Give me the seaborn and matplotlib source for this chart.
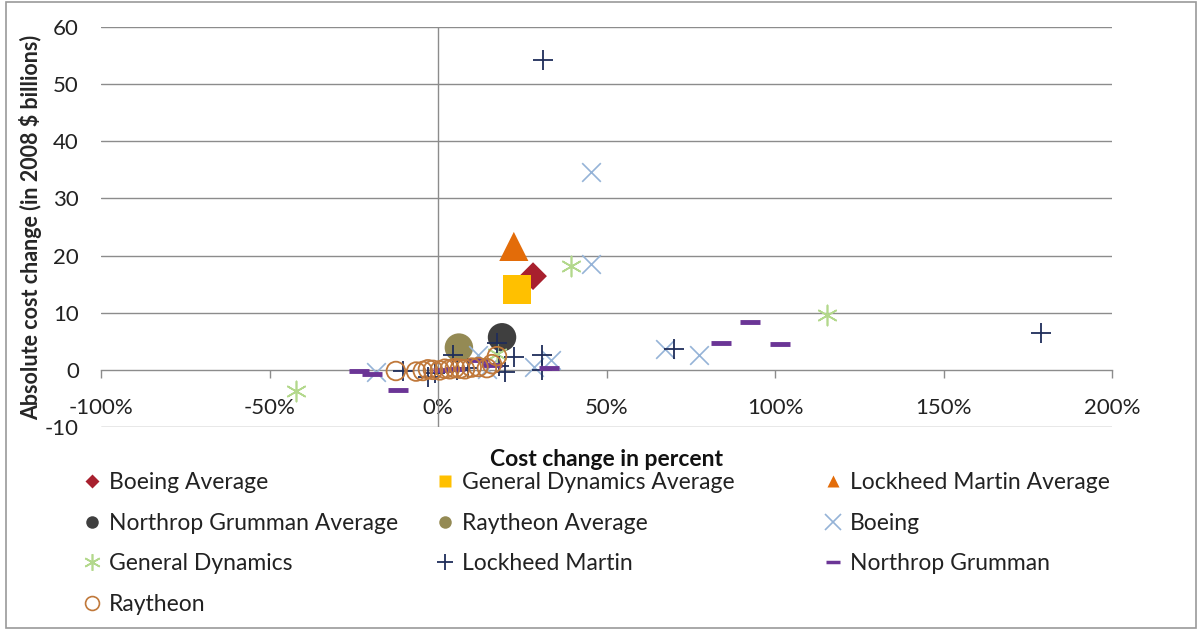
import pandas as pd
import numpy as np
import matplotlib
matplotlib.use("Agg")
import matplotlib.pyplot as plt
import seaborn as sns
from matplotlib.patches import Rectangle
from matplotlib.lines import Line2D

# averages per contractor (percent change, absolute change in 2008 $ billions)
avg_names = ['Boeing Average', 'General Dynamics Average', 'Lockheed Martin Average',
             'Northrop Grumman Average', 'Raytheon Average']
avg_pct = [28.2, 23.5, 22.5, 19.0, 6.2]
avg_abs = [16.4, 14.1, 21.6, 5.7, 3.9]

# individual programs
boeing_pct = [-18.5, 12.0, 14.5, 28.5, 33.5, 45.5, 45.5, 67.5, 77.5]
boeing_abs = [-0.3, 2.6, 0.2, 0.5, 1.8, 34.6, 18.5, 3.7, 2.6]

gd_pct = [-42.0, 17.5, 39.5, 115.5]
gd_abs = [-3.7, 2.8, 18.2, 9.6]

lm_pct = [-10.5, -3.0, -1.0, 4.5, 5.5, 9.0, 17.5, 18.0, 20.0, 22.5, 31.0, 31.0, 31.2, 70.0, 179.0]
lm_abs = [-0.2, -1.3, -0.5, 2.6, 0.0, 0.3, 4.7, 0.6, -0.3, 2.3, 2.6, 0.0, 54.2, 3.7, 6.5]

ng_pct = [-23.5, -19.5, -12.0, 1.5, 5.0, 12.0, 16.0, 33.0, 84.0, 92.5, 101.5]
ng_abs = [-0.2, -0.8, -3.6, 0.0, 0.1, 1.7, 0.9, 0.3, 4.7, 8.3, 4.5]

ray_pct = [-12.5, -6.5, -4.5, -3.0, -1.5, 0.5, 2.0, 3.5, 5.0, 6.5, 8.0, 10.0, 12.0, 14.5, 16.0, 17.5]
ray_abs = [-0.2, -0.3, -0.2, 0.1, 0.0, -0.1, 0.2, 0.1, 0.3, 0.2, 0.1, 0.4, 0.5, 0.3, 1.0, 2.4]

x_ticks = [-100, -50, 0, 50, 100, 150, 200]
y_ticks = [-10, 0, 10, 20, 30, 40, 50, 60]

sns.set_theme(style="white")
plt.rcParams['font.family'] = ['Lato', 'DejaVu Sans']

fig = plt.figure(figsize=(12.02, 6.30), dpi=100)
ax = fig.add_axes([101/1202, 1 - 427/630, (1112 - 101)/1202, 400/630])

# series styles: (label, x, y, marker, size, color, filled, linewidth)
series = [
    (avg_names[0], [avg_pct[0]], [avg_abs[0]], 'D', 200, '#A8202E', True, 0),
    (avg_names[1], [avg_pct[1]], [avg_abs[1]], 's', 420, '#FFC000', True, 0),
    (avg_names[2], [avg_pct[2]], [avg_abs[2]], '^', 440, '#E36C09', True, 0),
    (avg_names[3], [avg_pct[3]], [avg_abs[3]], 'o', 420, '#3F3F3F', True, 0),
    (avg_names[4], [avg_pct[4]], [avg_abs[4]], 'o', 420, '#948A54', True, 0),
    ('Boeing', boeing_pct, boeing_abs, 'x', 180, '#95B3D7', False, 1.2),
    ('General Dynamics', gd_pct, gd_abs, (6, 2, 0), 210, '#B3D88C', False, 1.2),
    ('Lockheed Martin', lm_pct, lm_abs, '+', 200, '#1F2D5A', False, 1.3),
    ('Northrop Grumman', ng_pct, ng_abs, '_', 190, '#6B3596', False, 3.5),
    ('Raytheon', ray_pct, ray_abs, 'o', 180, '#C0783A', False, 1.3),
]

handles = []
for label, xs, ys, mk, sz, col, filled, lw in series:
    df = pd.DataFrame({'pct': xs, 'abs': ys})
    if filled:
        sns.scatterplot(data=df, x='pct', y='abs', ax=ax, marker=mk, s=sz,
                        color=col, edgecolor='none', linewidth=0, zorder=3)
        h = Line2D([], [], marker=mk, linestyle='none', markersize=9 if mk != 'D' else 7.5,
                   markerfacecolor=col, markeredgecolor='none', color=col)
    elif label == 'Raytheon':
        ax.scatter(df['pct'], df['abs'], marker='o', s=sz, facecolors='none',
                   edgecolors=col, linewidths=lw, zorder=4)
        h = Line2D([], [], marker='o', linestyle='none', markersize=10,
                   markerfacecolor='none', markeredgecolor=col, markeredgewidth=1.2)
    else:
        sns.scatterplot(data=df, x='pct', y='abs', ax=ax, marker=mk, s=sz,
                        color=col, linewidth=lw, zorder=4)
        h = Line2D([], [], marker=mk, linestyle='none', markersize=12 if mk != '_' else 10,
                   color=col, markeredgecolor=col, markeredgewidth=lw if mk != '_' else 2.5)
    handles.append((h, label))

ax.set_xlim(-100, 200)
ax.set_ylim(-10, 60)
ax.set_xticks(x_ticks)
ax.set_xticklabels([f'{v}%' for v in x_ticks])
ax.set_yticks(y_ticks)
ax.set_yticklabels([str(v) for v in y_ticks])

grid_col = '#8C8C8C'
for v in y_ticks:
    if v != 0:
        ax.axhline(v, color=grid_col, lw=1, zorder=1)
ax.axvline(0, color=grid_col, lw=1, zorder=1)

for s in ['top', 'right', 'left']:
    ax.spines[s].set_visible(False)
ax.spines['bottom'].set_position(('data', 0))
ax.spines['bottom'].set_color(grid_col)
ax.spines['bottom'].set_linewidth(1)
ax.tick_params(axis='x', direction='out', length=6, width=1, color=grid_col,
               pad=14, labelsize=16, labelcolor='#222222', bottom=True)
ax.tick_params(axis='y', length=0, pad=16, labelsize=16, labelcolor='#222222')
ax.set_xlabel('')
ax.set_ylabel('Absolute cost change (in 2008 $ billions)', fontsize=15.5,
              fontweight='bold', labelpad=10)
ax.yaxis.set_label_coords(-0.058, 0.5)

fig.text(606/1202, 1 - 460/630, 'Cost change in percent', ha='center', va='center',
         fontsize=16.5, fontweight='bold', color='#111111')

# legend in three columns, filled row by row
col_x = [84, 437, 825]
for c in range(3):
    items = handles[c::3]
    leg = fig.legend([h for h, _ in items], [l for _, l in items],
                     loc='upper left', bbox_to_anchor=(col_x[c]/1202, 1 - 472/630),
                     frameon=False, fontsize=16.5, handlelength=0.7, handletextpad=0.4,
                     labelspacing=0.86, borderaxespad=0, borderpad=0)
    for t in leg.get_texts():
        t.set_color('#222222')

fig.patches.append(Rectangle((6/1202, 2/630), 1190/1202, 626/630, transform=fig.transFigure,
                             fill=False, edgecolor='#9A9A9A', lw=1.2))

fig.savefig('out.png', dpi=100)
